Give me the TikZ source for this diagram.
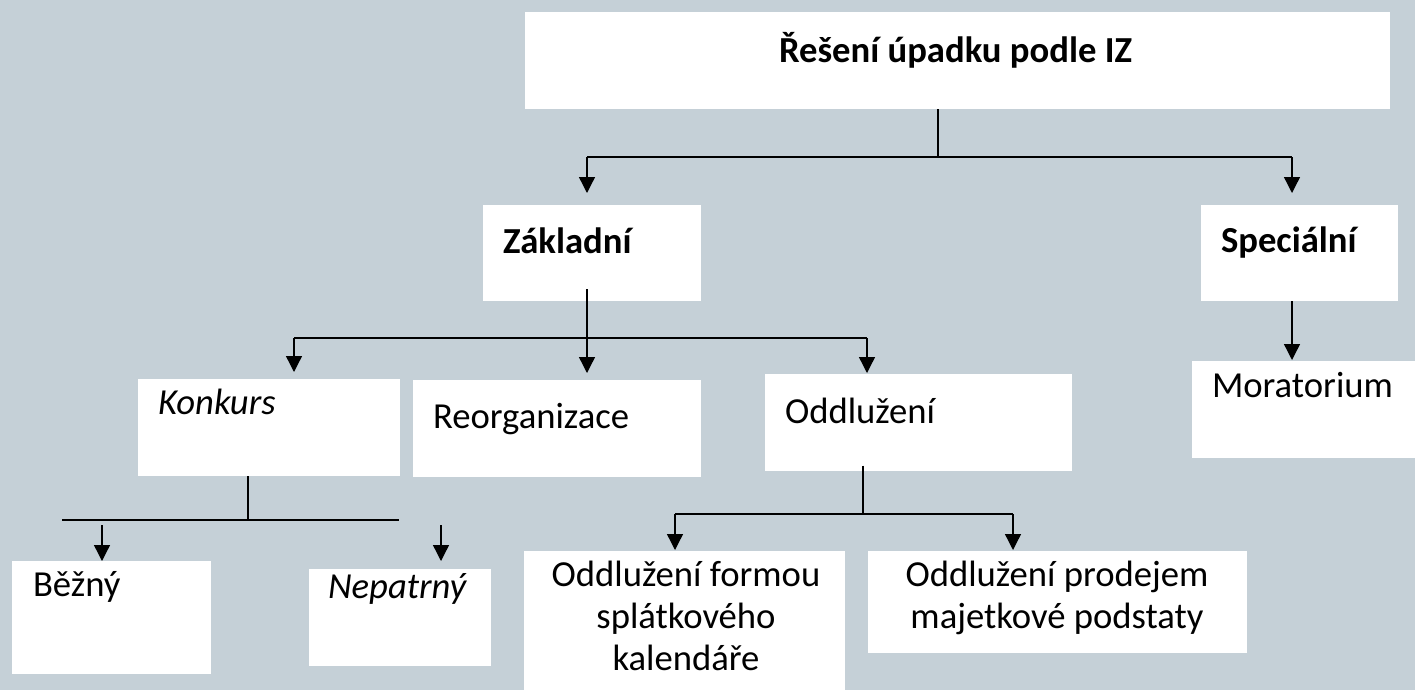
\documentclass[tikz,border=0pt]{standalone}
\usepackage{fontspec}
\setmainfont{Carlito}
\usetikzlibrary{arrows.meta,fit}
\definecolor{bgcol}{RGB}{197,208,215}
\begin{document}
\begin{tikzpicture}[x=0.75pt,y=-0.75pt,
  box/.style={fill=white,draw=none,inner sep=0pt,outer sep=0pt},
  txt/.style={anchor=base west,inner sep=0pt,outer sep=0pt,font=\fontsize{27.5}{31.3}\selectfont},
  ctxt/.style={anchor=base,inner sep=0pt,outer sep=0pt,align=center,font=\fontsize{27.5}{31.3}\selectfont},
  conn/.style={line width=1pt,draw=black},
  arr/.style={conn,-{Triangle[length=12pt,width=12pt]}}]
\useasboundingbox (0,0) rectangle (1415,690);
\fill[bgcol] (0,0) rectangle (1415,690);
% boxes
\node[box,fit={(525,12) (1390,109)}] (top) {};
\node[box,fit={(483,205) (701,301)}] (zak) {};
\node[box,fit={(1201,205) (1398,301)}] (spec) {};
\node[box,fit={(138,379) (400,476)}] (konk) {};
\node[box,fit={(413,380) (701,477)}] (reorg) {};
\node[box,fit={(765,374) (1072,471)}] (oddl) {};
\node[box,fit={(1192,361) (1415,458)}] (mor) {};
\node[box,fit={(12,561) (211,674)}] (bez) {};
\node[box,fit={(309,569) (491,666)}] (nep) {};
\node[box,fit={(524,551) (845,690)}] (splat) {};
\node[box,fit={(868,551) (1247,653)}] (prod) {};
% texts
\node[txt] (ttop) at (779,62) {\bfseries Řešení úpadku podle IZ};
\node[txt] (tzak) at (503,253) {\bfseries Základní};
\node[txt] (tspec) at (1221,252) {\bfseries Speciální};
\node[txt] (tkonk) at (158,414) {\itshape Konkurs};
\node[txt] (treorg) at (433,428) {Reorganizace};
\node[txt] (toddl) at (785,423) {Oddlužení};
\node[txt] (tmor) at (1212,397) {Moratorium};
\node[txt] (tbez) at (33,596) {Běžný};
\node[txt] (tnep) at (328,598) {\itshape Nepatrný};
\node[ctxt] (tsplat) at (686,670) {Oddlužení formou\\splátkového\\kalendáře};
\node[ctxt] (tprod) at (1057,628) {Oddlužení prodejem\\majetkové podstaty};
% junctions and arrow tips
\coordinate (j1) at (938,157);
\coordinate (j1l) at (587,157);
\coordinate (j1r) at (1292,157);
\coordinate (tz) at (587,193);
\coordinate (ts) at (1292,193);
\coordinate (j2) at (587,338);
\coordinate (j2l) at (294,338);
\coordinate (j2r) at (867,338);
\coordinate (tk) at (294,372);
\coordinate (tr) at (587,373);
\coordinate (to) at (867,373);
\coordinate (tm) at (1292,360);
\coordinate (j3) at (248,520);
\coordinate (j3l) at (62,520);
\coordinate (j3r) at (399,520);
\coordinate (sb) at (102,525);
\coordinate (tb) at (102,561);
\coordinate (sn) at (441,525);
\coordinate (tn) at (441,561);
\coordinate (j4) at (863,514);
\coordinate (j4l) at (675,514);
\coordinate (j4r) at (1013,514);
\coordinate (tsp) at (675,550);
\coordinate (tpr) at (1013,550);
% connectors
\draw[conn] (top.south -| j1) -- (j1);
\draw[conn] (j1l) -- (j1r);
\draw[arr] (j1l) -- (tz);
\draw[arr] (j1r) -- (ts);
\draw[conn] ([yshift=9pt]zak.south -| j2) -- (j2);
\draw[conn] (j2l) -- (j2r);
\draw[arr] (j2l) -- (tk);
\draw[arr] (j2) -- (tr);
\draw[arr] (j2r) -- (to);
\draw[arr] (spec.south -| tm) -- (tm);
\draw[conn] (konk.south -| j3) -- (j3);
\draw[conn] (j3l) -- (j3r);
\draw[arr] (sb) -- (tb);
\draw[arr] (sn) -- (tn);
\draw[conn] ([yshift=4pt]oddl.south -| j4) -- (j4);
\draw[conn] (j4l) -- (j4r);
\draw[arr] (j4l) -- (tsp);
\draw[arr] (j4r) -- (tpr);
\end{tikzpicture}
\end{document}
